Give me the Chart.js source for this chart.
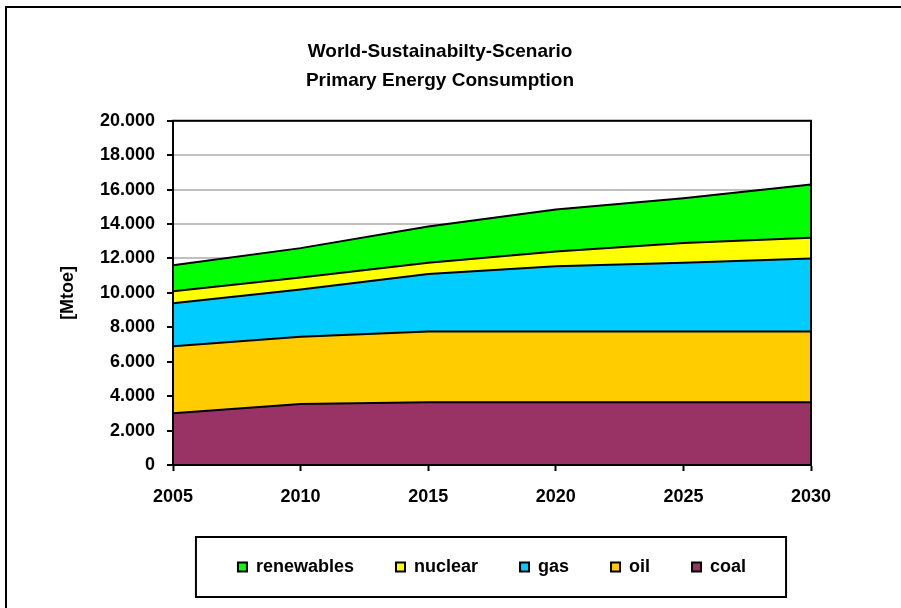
<!DOCTYPE html>
<html>
<head>
<meta charset="utf-8">
<script src="https://cdn.jsdelivr.net/npm/chart.js@4/dist/chart.umd.min.js"></script>
<style>
  html, body { margin: 0; padding: 0; background: #fff; }
  #wrap { position: relative; width: 901px; height: 608px; }
</style>
</head>
<body>
<div id="wrap"><canvas id="c" width="901" height="608"></canvas></div>
<script>
// ---- data (Mtoe) ----
const years = ['2005', '2010', '2015', '2020', '2025', '2030'];
const coal = [3000, 3550, 3650, 3650, 3650, 3650];
const oil = [3900, 3900, 4100, 4100, 4100, 4100];
const gas = [2500, 2750, 3350, 3800, 4000, 4250];
const nuclear = [700, 700, 650, 850, 1150, 1200];
const renewables = [1500, 1700, 2100, 2450, 2600, 3100];
const titleLines = ['World-Sustainabilty-Scenario', 'Primary Energy Consumption'];
const yAxisTitle = '[Mtoe]';

const FONT = 'Arial, "Liberation Sans", sans-serif';

function fmt(v) {
  return String(v).replace(/\B(?=(\d{3})+(?!\d))/g, '.');
}

const framePlugin = {
  id: 'frames',
  afterDatasetsDraw(chart) {
    const { ctx, chartArea: a } = chart;
    ctx.save();
    ctx.strokeStyle = '#000';
    ctx.lineWidth = 2;
    ctx.strokeRect(a.left, a.top, a.right - a.left, a.bottom - a.top);
    ctx.restore();
  },
  afterDraw(chart) {
    const { ctx } = chart;
    ctx.save();
    ctx.strokeStyle = '#000';
    ctx.lineWidth = 2;
    // outer chart border
    ctx.beginPath();
    ctx.moveTo(6, chart.height + 2);
    ctx.lineTo(6, 7);
    ctx.lineTo(chart.width + 2, 7);
    ctx.stroke();
    // legend frame
    const lg = chart.legend;
    if (lg && lg.legendHitBoxes && lg.legendHitBoxes.length) {
      const hb = lg.legendHitBoxes;
      let l = Infinity, r = -Infinity, t = Infinity, b = -Infinity;
      hb.forEach(h => {
        l = Math.min(l, h.left); r = Math.max(r, h.left + h.width);
        t = Math.min(t, h.top); b = Math.max(b, h.top + h.height);
      });
      const cy = (t + b) / 2;
      ctx.strokeRect(l - 42, cy - 30, (r - l) + 82, 60);
    }
    ctx.restore();
  }
};

const mk = (label, data, color, fill) => ({
  label, data,
  backgroundColor: color,
  borderColor: '#000',
  borderWidth: 2,
  pointRadius: 0,
  tension: 0,
  fill
});

new Chart(document.getElementById('c'), {
  type: 'line',
  data: {
    labels: years,
    datasets: [
      mk('coal', coal, '#993366', 'origin'),
      mk('oil', oil, '#FFCC00', '-1'),
      mk('gas', gas, '#00CCFF', '-1'),
      mk('nuclear', nuclear, '#FFFF00', '-1'),
      mk('renewables', renewables, '#00FF00', '-1')
    ]
  },
  options: {
    responsive: false,
    animation: false,
    devicePixelRatio: 1,
    layout: { padding: { left: 69, right: 90, top: 0, bottom: 22 } },
    plugins: {
      title: {
        display: true,
        text: titleLines,
        color: '#000',
        font: { family: FONT, size: 19, weight: 'bold', lineHeight: 1.52 },
        padding: { top: 37, bottom: 26 }
      },
      legend: {
        display: true,
        position: 'bottom',
        fullSize: false,
        reverse: true,
        maxHeight: 92,
        labels: {
          color: '#000',
          font: { family: FONT, size: 18, weight: 'bold' },
          boxWidth: 9,
          boxHeight: 9,
          padding: 42
        }
      },
      tooltip: { enabled: false }
    },
    scales: {
      x: {
        type: 'category',
        offset: false,
        grid: { drawOnChartArea: false, tickLength: 6, tickColor: '#000', tickWidth: 2 },
        border: { color: '#000', width: 2 },
        ticks: { color: '#000', font: { family: FONT, size: 18, weight: 'bold' }, padding: 15, maxRotation: 0, autoSkip: false },
        afterFit(s) { s.height = 51; }
      },
      y: {
        stacked: true,
        min: 0,
        max: 20000,
        grid: { color: '#c0c0c0', lineWidth: 2, tickLength: 6, tickColor: '#000', tickWidth: 2 },
        border: { color: '#000', width: 2 },
        ticks: { stepSize: 2000, color: '#000', font: { family: FONT, size: 18, weight: 'bold' }, padding: 12, callback: v => fmt(v) },
        title: { display: true, text: yAxisTitle, color: '#000', font: { family: FONT, size: 18, weight: 'bold' }, padding: { top: -12, bottom: 0 } },
        afterFit(s) { s.width = 104; }
      }
    }
  },
  plugins: [framePlugin]
});
</script>
</body>
</html>
